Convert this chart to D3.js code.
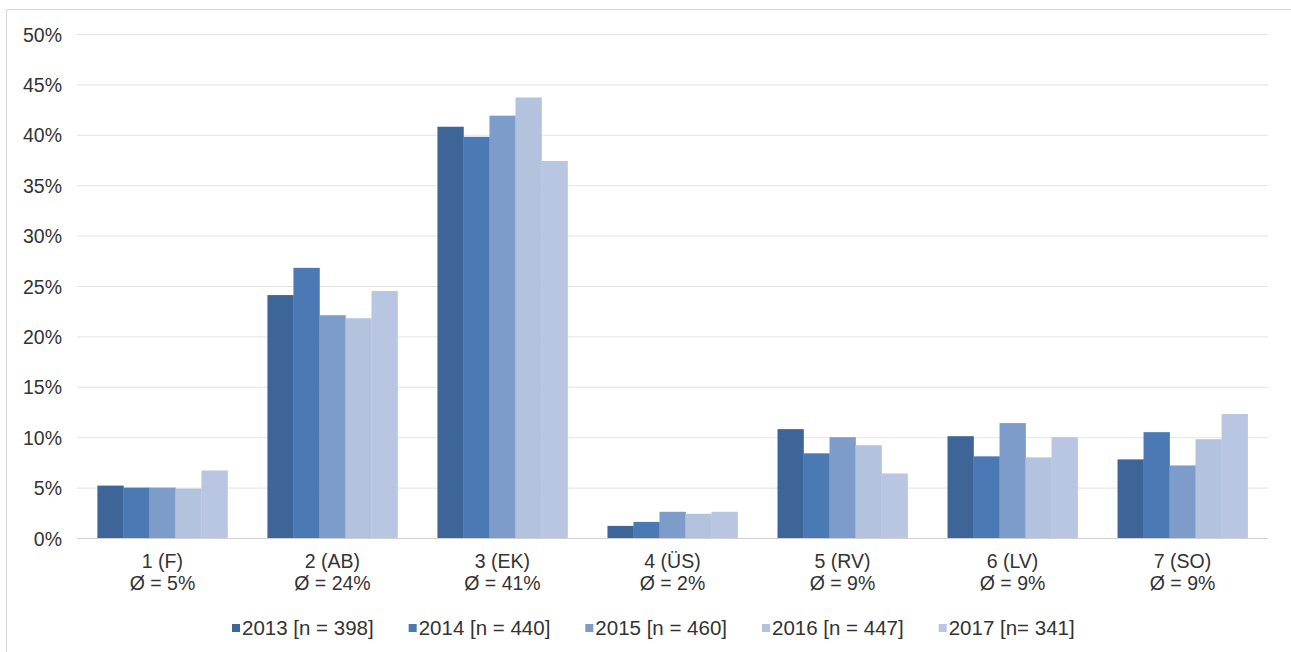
<!DOCTYPE html>
<html>
<head>
<meta charset="utf-8">
<script src="https://cdn.jsdelivr.net/npm/d3@7/dist/d3.min.js"></script>
<style>
  html, body { margin: 0; padding: 0; background: #fff; }
  svg { display: block; font-family: "Liberation Sans", Arial, sans-serif; }
</style>
</head>
<body>
<svg id="chart" width="1291" height="652"></svg>
<script>
const categories = ["1 (F)", "2 (AB)", "3 (EK)", "4 (ÜS)", "5 (RV)", "6 (LV)", "7 (SO)"];
const averages = ["Ø = 5%", "Ø = 24%", "Ø = 41%", "Ø = 2%", "Ø = 9%", "Ø = 9%", "Ø = 9%"];
const seriesNames = ["2013 [n = 398]", "2014 [n = 440]", "2015 [n = 460]", "2016 [n = 447]", "2017 [n= 341]"];
const values2013 = [5.2, 24.1, 40.8, 1.2, 10.8, 10.1, 7.8];
const values2014 = [5.0, 26.8, 39.8, 1.6, 8.4, 8.1, 10.5];
const values2015 = [5.0, 22.1, 41.9, 2.6, 10.0, 11.4, 7.2];
const values2016 = [4.9, 21.8, 43.7, 2.4, 9.2, 8.0, 9.8];
const values2017 = [6.7, 24.5, 37.4, 2.6, 6.4, 10.0, 12.3];
const yTicks = [0, 5, 10, 15, 20, 25, 30, 35, 40, 45, 50];
const colors = ["#3e6597", "#4a79b3", "#7e9cc9", "#b3c3de", "#b8c6e1"];

const series = [values2013, values2014, values2015, values2016, values2017];

const svg = d3.select("#chart");
const mLeft = 77, mRight = 1268, mTop = 34, mBottom = 538;
const fs = "19.5px", txt = "#333333";

// outer border
svg.append("path")
  .attr("d", "M6.5,652 L6.5,9.5 L1291,9.5")
  .attr("fill", "none").attr("stroke", "#d9d9d9").attr("stroke-width", 1);

const x = d3.scaleBand().domain(categories).range([mLeft, mRight]).paddingInner(0.235).paddingOuter(0.12);
const xs = d3.scaleBand().domain(d3.range(series.length)).range([0, x.bandwidth()]);
const y = d3.scaleLinear().domain([0, 50]).range([mBottom, mTop]);

// gridlines
const yAxis = d3.axisLeft(y).tickValues(yTicks).tickFormat(d => d + "%").tickSize(-(mRight - mLeft));
const gy = svg.append("g").attr("transform", `translate(${mLeft},0)`).call(yAxis);
gy.select(".domain").remove();
gy.selectAll(".tick line").attr("stroke", d => d === 0 ? "#d0d0d0" : "#e3e3e3").attr("stroke-width", 1);
gy.selectAll(".tick text").attr("fill", txt).style("font-size", fs)
  .attr("x", -(mLeft - 62)).attr("text-anchor", "end").attr("dy", "0.36em");

// bars
const groups = svg.append("g").selectAll("g").data(categories).join("g")
  .attr("transform", d => `translate(${x(d)},0)`);
groups.selectAll("rect").data((d, i) => series.map((s, k) => ({k, v: s[i]}))).join("rect")
  .attr("x", d => xs(d.k))
  .attr("width", xs.bandwidth() + 0.3)
  .attr("y", d => y(d.v))
  .attr("height", d => y(0) - y(d.v))
  .attr("fill", d => colors[d.k]);

// baseline on top
svg.append("line").attr("x1", mLeft).attr("x2", mRight).attr("y1", mBottom + 0.5).attr("y2", mBottom + 0.5)
  .attr("stroke", "#d0d0d0");

// x labels
const xl = svg.append("g");
categories.forEach((c, i) => {
  const cx = x(c) + x.bandwidth() / 2;
  xl.append("text").attr("x", cx).attr("y", 568).attr("text-anchor", "middle")
    .attr("fill", txt).style("font-size", fs).text(c);
  xl.append("text").attr("x", cx).attr("y", 590).attr("text-anchor", "middle")
    .attr("fill", txt).style("font-size", fs).text(averages[i]);
});

// legend
const lg = svg.append("g");
let items = [];
const sq = 8, sqGap = 2, itemGap = 35;
seriesNames.forEach((n, k) => {
  const g = lg.append("g");
  g.append("rect").attr("x", 0).attr("width", sq).attr("height", sq).attr("y", -sq - 3).attr("fill", colors[k]);
  const t = g.append("text").attr("x", sq + sqGap).attr("y", 0)
    .attr("fill", txt).style("font-size", "20.5px").text(n);
  const w = sq + sqGap + t.node().getComputedTextLength();
  items.push({g, w});
});
let lx = 232;
items.forEach(it => {
  it.g.attr("transform", `translate(${lx},635)`);
  lx += it.w + itemGap;
});
</script>
</body>
</html>
